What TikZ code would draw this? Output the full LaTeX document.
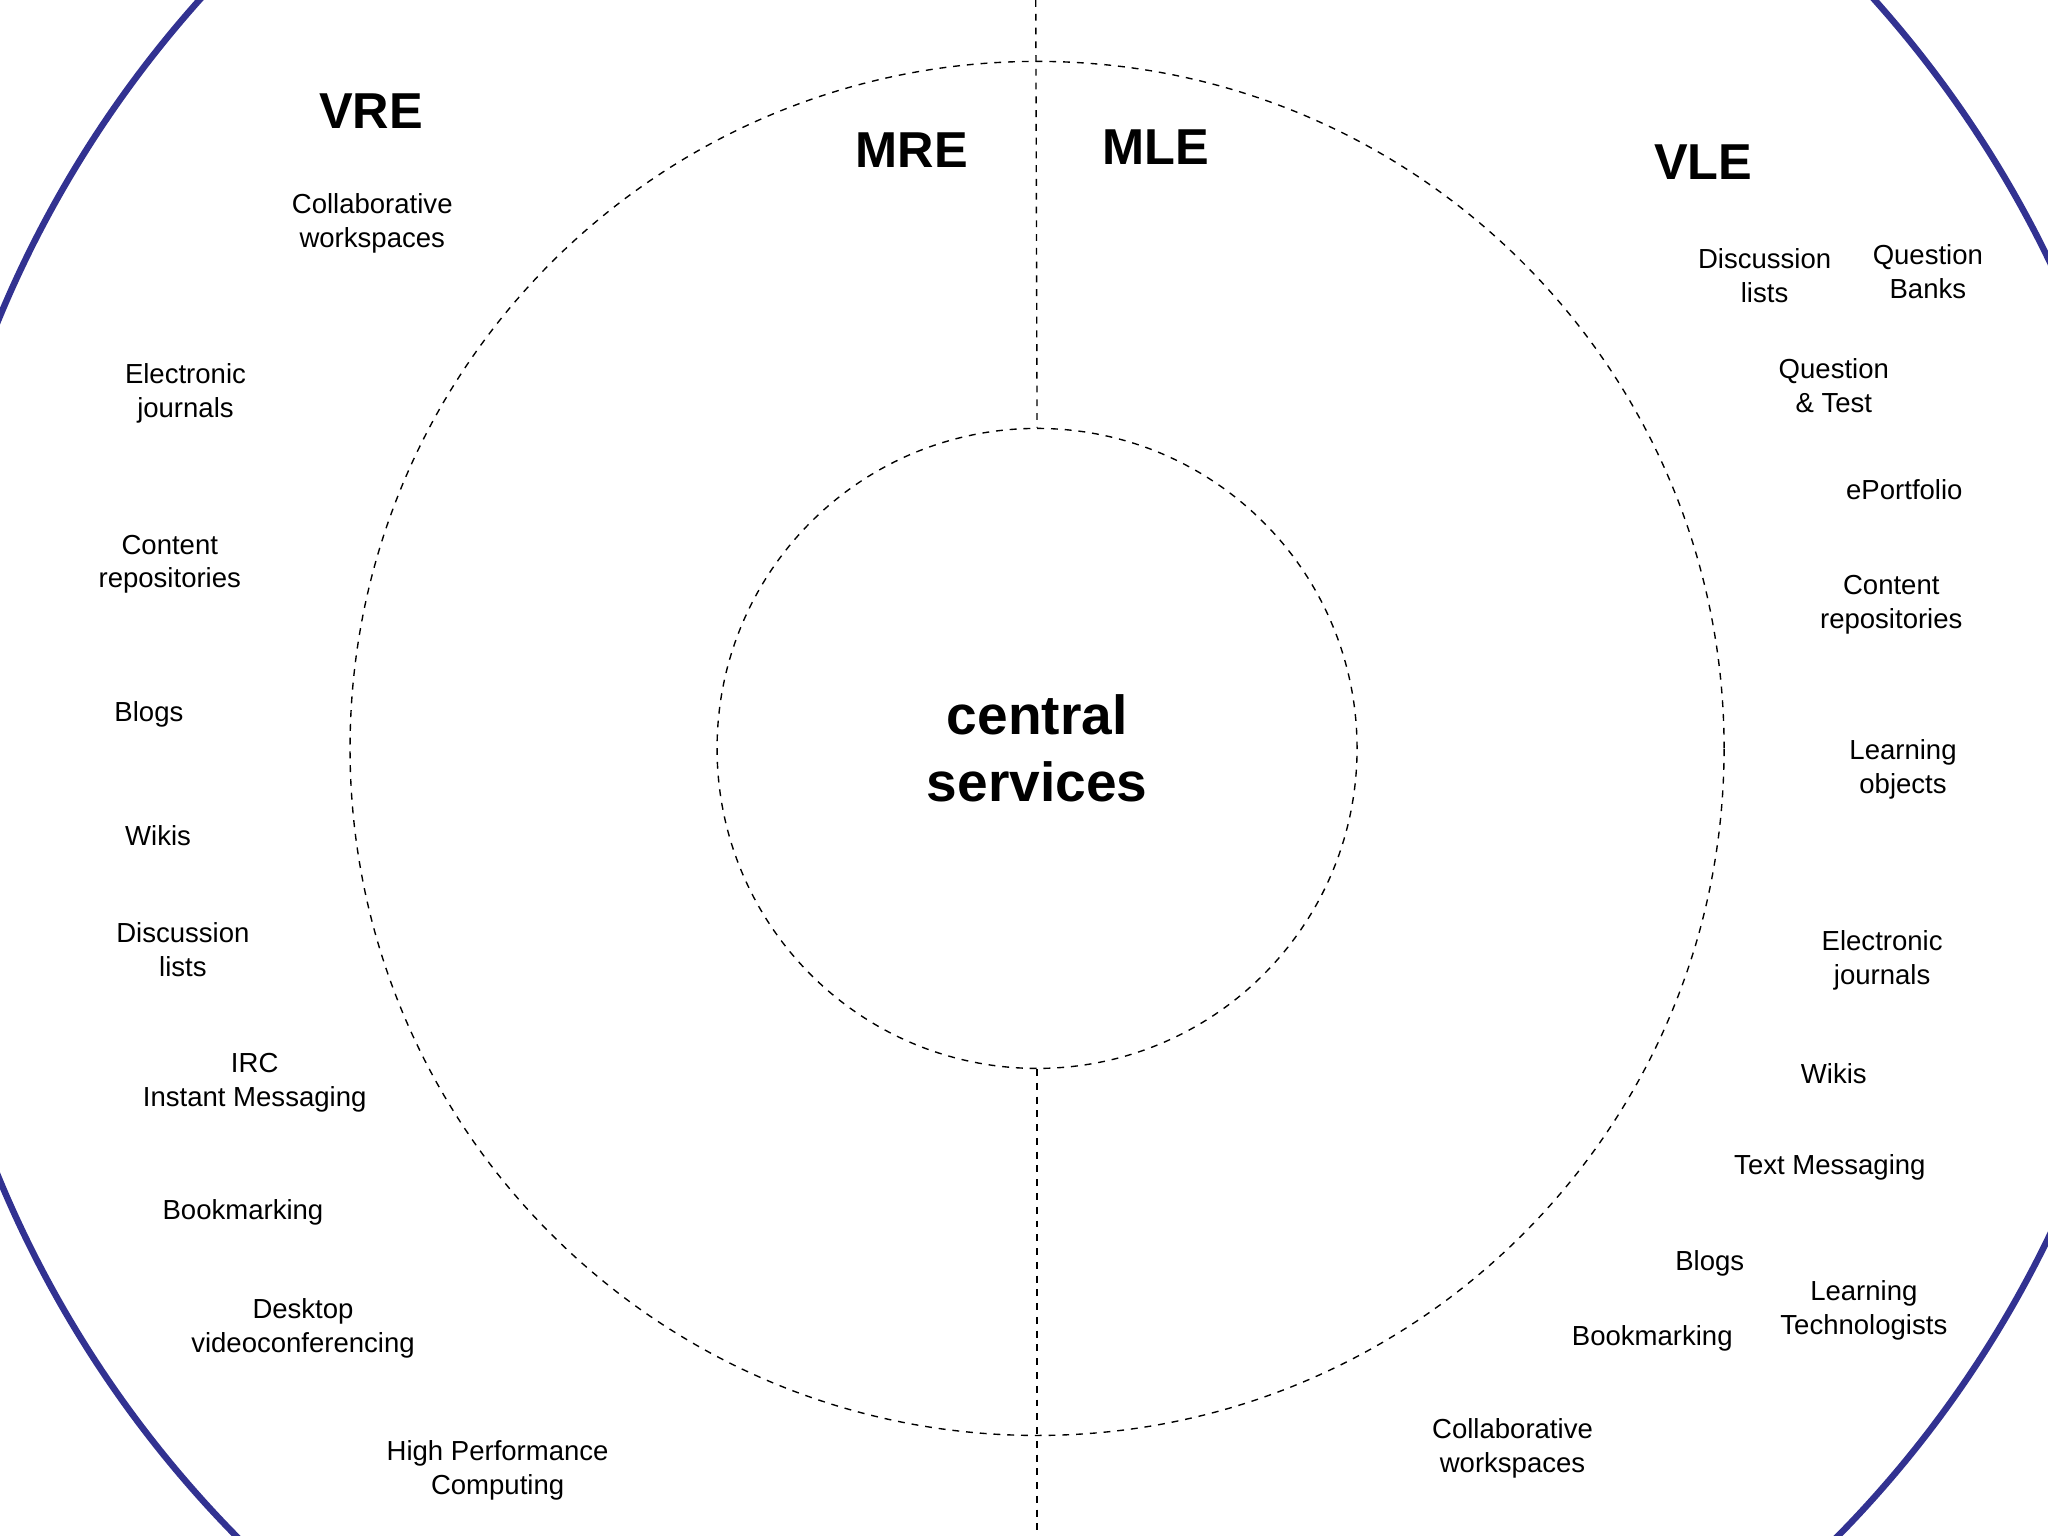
\documentclass[tikz,border=0pt]{standalone}
\usepackage{fontspec}
\setmainfont{Liberation Sans}
\begin{document}
\begin{tikzpicture}[x=0.02cm,y=-0.02cm,
  lab/.style={align=center,font=\fontsize{12}{14.8}\selectfont},
  ttl/.style={font=\fontsize{22}{26}\selectfont\bfseries},
  ring/.style={draw,dashed,line width=0.6pt}]
\useasboundingbox (0,0) rectangle (1568,1176);
\clip (0,0) rectangle (1568,1176);
\coordinate (c) at (794,573);
\draw[line width=2.8pt,draw={rgb,255:red,50;green,50;blue,145}] (c) circle[radius=860];
\node[ring,circle,minimum size=1052*0.02cm,inner sep=0] (mid) at (c) {};
\node[ring,circle,minimum size=490*0.02cm,inner sep=0,align=center,font=\fontsize{24}{29}\selectfont\bfseries] (cs) at (c) {central\\services};
\coordinate (top) at (793,0);
\coordinate (bot) at (794,1176);
\draw[dashed,line width=0.6pt] (top) -- (cs.north);
\draw[dashed,line width=0.6pt] (cs.south) -- (bot);
\node[ttl] (vre) at (284,85) {VRE};
\node[ttl] (mre) at (698,115) {MRE};
\node[ttl] (mle) at (885,113) {MLE};
\node[ttl] (vle) at (1304,124) {VLE};
\node[lab] (l1) at (285,171) {Collaborative\\workspaces};
\node[lab] (l2) at (142,301) {Electronic\\journals};
\node[lab] (l3) at (130,432) {Content\\repositories};
\node[lab] (l4) at (114,547) {Blogs};
\node[lab] (l5) at (121,640) {Wikis};
\node[lab] (l6) at (140,727) {Discussion\\lists};
\node[lab] (l7) at (195,829) {IRC\\Instant Messaging};
\node[lab] (l8) at (186,928) {Bookmarking};
\node[lab] (l9) at (232,1017) {Desktop\\videoconferencing};
\node[lab] (l10) at (381,1126) {High Performance\\Computing};
\node[lab] (r1) at (1351,211) {Discussion\\lists};
\node[lab] (r2) at (1476,208) {Question\\Banks};
\node[lab] (r3) at (1404,295) {Question\\\& Test};
\node[lab] (r4) at (1458,375) {ePortfolio};
\node[lab] (r5) at (1448,463) {Content\\repositories};
\node[lab] (r6) at (1457,589) {Learning\\objects};
\node[lab] (r7) at (1441,735) {Electronic\\journals};
\node[lab] (r8) at (1404,822) {Wikis};
\node[lab] (r9) at (1401,894) {Text Messaging};
\node[lab] (r10) at (1309,967) {Blogs};
\node[lab] (r11) at (1427,1003) {Learning\\Technologists};
\node[lab] (r12) at (1265,1025) {Bookmarking};
\node[lab] (r13) at (1158,1109) {Collaborative\\workspaces};
\end{tikzpicture}
\end{document}
